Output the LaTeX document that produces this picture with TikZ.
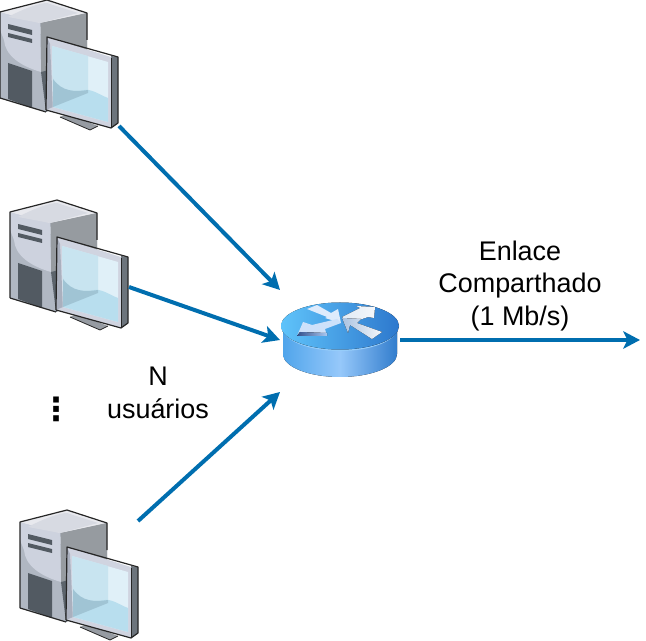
\documentclass[tikz,border=0pt]{standalone}
\usepackage{fontspec}
\setmainfont{Liberation Sans}
\newfontfamily\symfont{DejaVu Sans}
\usetikzlibrary{arrows.meta,calc}
\definecolor{linkblue}{HTML}{006EAF}
\tikzset{
  conn/.style={draw=linkblue,line width=3pt,-{Stealth[length=12.5pt,width=13pt,inset=3pt]}},
  lbl/.style={font=\fontsize{20.2}{24.4}\selectfont,align=center,inner sep=0pt,text=black},
  edge/.style={draw=black!85,line width=0.9pt,line join=round},
  pics/pc/.style={code={
    % tower
    \fill[color={rgb,255:red,163;green,170;blue,178}] (40,23) -- (87,13) -- (87,90) -- (46,112) -- cycle;
    \fill[color={rgb,255:red,176;green,183;blue,194}] (0,12) -- (40,23) -- (46,112) -- (0,98) -- cycle;
    \fill[color={rgb,255:red,205;green,210;blue,222}] (0,12) -- (40,23) -- (41,72) .. controls (20,66) and (5,55) .. (4,40) -- (0,30) -- cycle;
    \fill[color={rgb,255:red,232;green,233;blue,238}] (0,12) -- (47,0) -- (87,13) -- (40,23) -- cycle;
    \fill[color={rgb,255:red,215;green,218;blue,226}] (8,17) .. controls (25,8) and (40,3) .. (47,3) -- (78,13) -- (40,23) -- cycle;
    \fill[color={rgb,255:red,150;green,155;blue,160}] (41,23) -- (87,13) -- (87,52) .. controls (70,65) and (55,70) .. (41,72) -- cycle;
    \fill[color={rgb,255:red,92;green,100;blue,108}] (41,72) -- (87,60) -- (87,90) -- (46,112) -- cycle;
    \fill[color={rgb,255:red,82;green,90;blue,98}] (8,63) -- (32,71) -- (32,108) -- (8,99) -- cycle;
    \fill[color={rgb,255:red,82;green,90;blue,98}] (8,24) -- (32,30) -- (32,35) -- (8,29) -- cycle;
    \fill[color={rgb,255:red,82;green,90;blue,98}] (8,33) -- (32,39) -- (32,43) -- (8,37) -- cycle;
    \draw[edge] (0,98) -- (0,12) -- (47,0) -- (87,13) -- (87,40);
    \draw[edge] (0,98) -- (46,112);
    % stand
    \fill[color={rgb,255:red,150;green,155;blue,162}] (60,117) -- (67,114) -- (98,126) -- (90,130) -- cycle;
    \draw[edge,line width=0.6pt] (60,117) -- (90,130) -- (98,126);
    % monitor
    \fill[color={rgb,255:red,108;green,116;blue,124}] (111,56) -- (118,57) -- (118,123) -- (111,128) -- cycle;
    \fill[color={rgb,255:red,208;green,212;blue,224}] (47,37) -- (111,57) -- (111,128) -- (46,110) -- cycle;
    \fill[color={rgb,255:red,170;green,176;blue,190}] (50,44) -- (53,107) -- (46,110) -- (47,37) -- cycle;
    \fill[color={rgb,255:red,224;green,240;blue,248}] (52,46) -- (108,62) -- (108,122) -- (53,107) -- cycle;
    \fill[color={rgb,255:red,200;green,228;blue,240}] (52,46) -- (88,56) -- (88,92) -- (53,107) -- cycle;
    \fill[color={rgb,255:red,184;green,222;blue,238}] (53,79) .. controls (62,92) and (75,92) .. (85,90) .. controls (92,89) and (100,95) .. (108,98) -- (108,122) -- (53,107) -- cycle;
    \fill[color={rgb,255:red,160;green,196;blue,212}] (53,79) .. controls (62,92) and (75,92) .. (88,90) -- (88,93) -- (53,107) -- cycle;
    \draw[edge] (46,110) -- (47,37) -- (118,57) -- (118,123) -- (111,128) -- (46,110);
    \draw[edge,line width=0.5pt] (111,58) -- (111,128);
  }},
  pics/routerbody/.style={code={
    \fill[left color={rgb,255:red,80;green,165;blue,235},right color={rgb,255:red,50;green,125;blue,205},middle color={rgb,255:red,150;green,200;blue,250}]
       (-57,0) -- (-57,28) arc[start angle=180,end angle=0,x radius=57,y radius=23] -- (57,0) -- cycle;
    \fill[color={rgb,255:red,150;green,205;blue,250}] (0,1) ellipse[x radius=58,y radius=24];
    \fill[left color={rgb,255:red,95;green,195;blue,250},right color={rgb,255:red,45;green,120;blue,205}] (0,0) ellipse[x radius=59,y radius=23.5];
    % arrows on top
    \fill[color={rgb,255:red,222;green,235;blue,252}] (-33,-17) -- (-23,-21) -- (-9,-13) -- (-2,-17) -- (1,-3) -- (-15,-8) -- (-13,-9) -- cycle;
    \fill[color={rgb,255:red,205;green,225;blue,250}] (-43,10) -- (-37,-4) -- (-28,-1) -- (-3,-7) -- (1,-3) -- (-15,3) -- (-13,10) -- cycle;
    \fill[left color={rgb,255:red,50;green,80;blue,140},right color={rgb,255:red,170;green,200;blue,240}] (-43,10) -- (-40,6) -- (-13,7) -- (-13,10) -- cycle;
    \fill[left color={rgb,255:red,225;green,235;blue,245},right color={rgb,255:red,245;green,247;blue,250}] (2,-9) -- (20,-18) -- (16,-20) -- (35,-19) -- (34,-8) -- (28,-9) -- (10,-3) -- cycle;
    \fill[left color={rgb,255:red,170;green,195;blue,225},right color={rgb,255:red,245;green,247;blue,250}] (2,-8) -- (21,-7) -- (17,-3) -- (42,6) -- (32,13) -- (10,-1) -- (8,7) -- cycle;
  }}
}
\begin{document}
\begin{tikzpicture}[x=0.75pt,y=-0.75pt]
\useasboundingbox (0,0) rectangle (646,641);
\pic at (0,0) {pc};
\pic at (10,200) {pc};
\pic at (20,510) {pc};
\pic at (340,326) {routerbody};
\coordinate (pc1out) at (119,126);
\coordinate (pc2out) at (129,287);
\coordinate (pc3out) at (138,521);
\coordinate (rin1) at (280,290);
\coordinate (rin2) at (280,340);
\coordinate (rin3) at (280,392);
\coordinate (rout) at (400,340);
\coordinate (linkend) at (640,340);
\draw[conn] (pc1out) -- (rin1);
\draw[conn] (pc2out) -- (rin2);
\draw[conn] (pc3out) -- (rin3);
\draw[conn] (rout) -- (linkend);
\node[lbl] (linklabel) at (520,286) {Enlace\\Comparthado\\(1 Mb/s)};
\node[lbl] (users) at (158,393) {N\\usuários};
\node[lbl] (dots) at (56,409) {\symfont\bfseries\fontsize{24}{24}\selectfont ⋮};
\end{tikzpicture}
\end{document}
